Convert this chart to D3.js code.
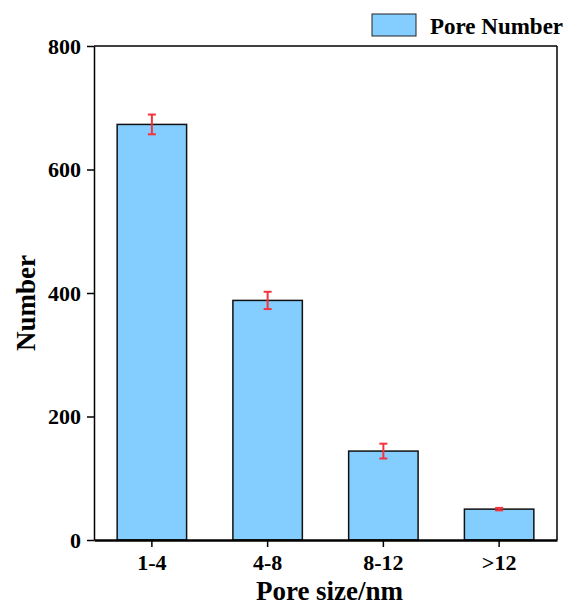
<!DOCTYPE html>
<html>
<head>
<meta charset="utf-8">
<script src="https://cdn.jsdelivr.net/npm/d3@7"></script>
<style>
  body { margin: 0; background: #fff; }
  text { font-family: "Liberation Serif", "Times New Roman", serif; font-weight: bold; }
</style>
</head>
<body>
<svg id="chart"></svg>
<script>
var categories = ["1-4", "4-8", "8-12", ">12"];
var values = [673, 388, 144, 50];
var errors = [16, 14, 12, 2];
var yTicks = [0, 200, 400, 600, 800];

var width = 565, height = 606;
var margin = {top: 46, right: 8, bottom: 66, left: 94};
var w = width - margin.left - margin.right,
    h = height - margin.top - margin.bottom;

var svg = d3.select("#chart").attr("width", width).attr("height", height);
var g = svg.append("g").attr("transform", "translate(" + margin.left + "," + margin.top + ")");

var x = d3.scaleBand().domain(categories).range([0, w]).paddingInner(0.4).paddingOuter(0.2);
var y = d3.scaleLinear().domain([0, 800]).range([h, 0]);

// frame top/right
g.append("line").attr("x1", 0).attr("x2", w).attr("y1", 0).attr("y2", 0)
  .attr("stroke", "#000").attr("stroke-width", 1.5);
g.append("line").attr("x1", w).attr("x2", w).attr("y1", 0).attr("y2", h)
  .attr("stroke", "#000").attr("stroke-width", 1.5);

// bars
g.selectAll("rect.bar")
  .data(values)
  .enter().append("rect")
  .attr("class", "bar")
  .attr("x", function(d, i) { return x(categories[i]); })
  .attr("y", function(d) { return y(d); })
  .attr("width", x.bandwidth())
  .attr("height", function(d) { return h - y(d); })
  .attr("fill", "#84CEFF")
  .attr("stroke", "#111")
  .attr("stroke-width", 1.5);

// error bars
var eb = g.selectAll("g.err").data(values).enter().append("g").attr("class", "err")
  .attr("transform", function(d, i) { return "translate(" + (x(categories[i]) + x.bandwidth() / 2) + ",0)"; });
eb.append("line")
  .attr("y1", function(d, i) { return y(d + errors[i]); })
  .attr("y2", function(d, i) { return y(d - errors[i]); })
  .attr("stroke", "#F4333C").attr("stroke-width", 2);
eb.append("line").attr("x1", -4).attr("x2", 4)
  .attr("y1", function(d, i) { return y(d + errors[i]); })
  .attr("y2", function(d, i) { return y(d + errors[i]); })
  .attr("stroke", "#F4333C").attr("stroke-width", 2);
eb.append("line").attr("x1", -4).attr("x2", 4)
  .attr("y1", function(d, i) { return y(d - errors[i]); })
  .attr("y2", function(d, i) { return y(d - errors[i]); })
  .attr("stroke", "#F4333C").attr("stroke-width", 2);

// axes
var yAxis = g.append("g")
  .call(d3.axisLeft(y).tickValues(yTicks).tickSize(7).tickSizeOuter(0).tickPadding(6));
yAxis.attr("font-size", 22).attr("font-family", "Liberation Serif");
yAxis.select(".domain").attr("stroke-width", 1.5);
yAxis.selectAll(".tick line").attr("stroke-width", 1.5);
yAxis.selectAll("text").attr("font-weight", "bold").attr("fill", "#000");

var xAxis = g.append("g").attr("transform", "translate(0," + h + ")")
  .call(d3.axisBottom(x).tickSize(7).tickSizeOuter(0).tickPadding(7));
xAxis.attr("font-size", 22).attr("font-family", "Liberation Serif");
xAxis.select(".domain").attr("stroke-width", 2.5);
xAxis.selectAll(".tick line").attr("stroke-width", 1.5);
xAxis.selectAll("text").attr("font-weight", "bold").attr("fill", "#000");

// axis titles
svg.append("text").attr("x", margin.left + w / 2 + 4).attr("y", 600)
  .attr("text-anchor", "middle").attr("font-size", 27).text("Pore size/nm");
svg.append("text").attr("transform", "translate(35," + (margin.top + h / 2 + 10) + ") rotate(-90)")
  .attr("text-anchor", "middle").attr("font-size", 27).text("Number");

// legend
svg.append("rect").attr("x", 372).attr("y", 14).attr("width", 44).attr("height", 22)
  .attr("fill", "#84CEFF").attr("stroke", "#222").attr("stroke-width", 1);
svg.append("text").attr("x", 430).attr("y", 34).attr("font-size", 23).text("Pore Number");
</script>
</body>
</html>
